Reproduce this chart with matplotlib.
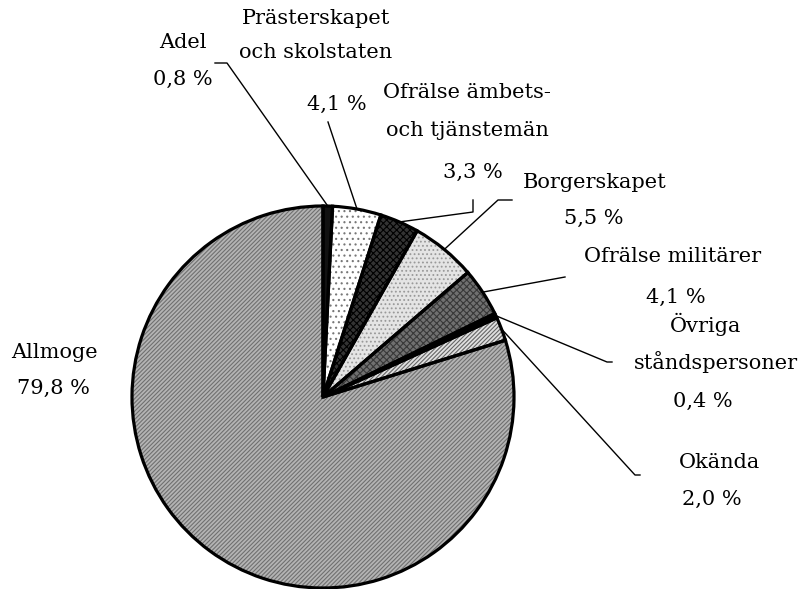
import numpy as np
import matplotlib
matplotlib.use('Agg')
import matplotlib.pyplot as plt

W, H = 810, 589

# share of each group, clockwise from 12 o'clock
groups = ['Adel', 'Prästerskapet och skolstaten', 'Ofrälse ämbets- och tjänstemän',
          'Borgerskapet', 'Ofrälse militärer', 'Övriga ståndspersoner',
          'Okända', 'Allmoge']
shares = [0.8, 4.1, 3.3, 5.5, 4.1, 0.4, 2.0, 79.8]
label_lines = [
    ['Adel', '0,8 %'],
    ['Prästerskapet', 'och skolstaten', '4,1 %'],
    ['Ofrälse ämbets-', 'och tjänstemän', '3,3 %'],
    ['Borgerskapet', '5,5 %'],
    ['Ofrälse militärer', '4,1 %'],
    ['Övriga', 'ståndspersoner', '0,4 %'],
    ['Okända', '2,0 %'],
    ['Allmoge', '79,8 %'],
]

# pixel positions of label lines (x, y from top)
line_pos = [
    [(183, 42), (183, 79)],
    [(316, 18), (316, 52), (337, 104)],
    [(467, 92), (467, 130), (473, 172)],
    [(595, 182), (594, 218)],
    [(673, 257), (676, 297)],
    [(706, 324), (716, 362), (703, 401)],
    [(720, 463), (712, 499)],
    [(54, 352), (53, 388)],
]
# leader line paths, from the label towards the slice (pixels)
leaders = [
    [(215, 63), (227, 63)],
    [(328, 122)],
    [(473, 200), (473, 212)],
    [(512, 200), (498, 200)],
    [(565, 277)],
    [(612, 362), (607, 362)],
    [(640, 475), (635, 475)],
    None,
]

faces = ['#111111', 'white', '#333333', '#e4e4e4', '#707070', '#000000', '#e0e0e0', '#b4b4b4']
hatches = [None, '...', 'xxxxx', '....', 'xxxxx', None, '////////', '////////']
hatch_cols = ['#111111', '#777777', '#000000', '#999999', '#383838', '#000000', '#666666', '#707070']

cx, cy, R = 323, H - 397, 191

plt.rcParams['font.family'] = ['DejaVu Serif']
plt.rcParams['hatch.linewidth'] = 0.8

fig = plt.figure(figsize=(W / 100, H / 100), dpi=100)
ax = fig.add_axes([0, 0, 1, 1])

# fill + hatch pass
wedges, _ = ax.pie(shares, startangle=90, counterclock=False, center=(cx, cy),
                   radius=R, frame=True)
for w, fc, h, hc in zip(wedges, faces, hatches, hatch_cols):
    w.set_facecolor(fc)
    w.set_edgecolor(hc)
    w.set_linewidth(0)
    if h:
        w.set_hatch(h)

# outline pass
outl, _ = ax.pie(shares, startangle=90, counterclock=False, center=(cx, cy),
                 radius=R, frame=True,
                 wedgeprops=dict(facecolor='none', edgecolor='black', linewidth=2.3))

for w, lines, pos, lead in zip(wedges, label_lines, line_pos, leaders):
    for txt, (x, y) in zip(lines, pos):
        ax.text(x, H - y, txt, ha='center', va='center', fontsize=15)
    if lead is None:
        continue
    mid = np.deg2rad((w.theta1 + w.theta2) / 2)
    sx, sy = cx + R * np.cos(mid), cy + R * np.sin(mid)
    xs = [p[0] for p in lead] + [sx]
    ys = [H - p[1] for p in lead] + [sy]
    ax.plot(xs, ys, color='black', lw=1.0)

ax.set_xlim(0, W)
ax.set_ylim(0, H)
ax.set_aspect('equal')
ax.axis('off')

plt.savefig('out.png', dpi=100)
